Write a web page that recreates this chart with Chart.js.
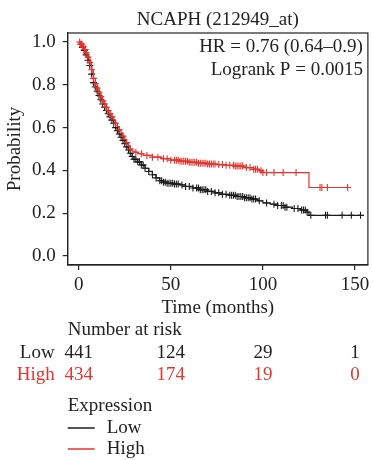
<!DOCTYPE html>
<html>
<head>
<meta charset="utf-8">
<script src="https://cdn.jsdelivr.net/npm/chart.js@4.4.1/dist/chart.umd.min.js"></script>
<style>
html, body { margin: 0; padding: 0; background: #fff; }
#wrap { position: relative; width: 373px; height: 460px; }
</style>
</head>
<body>
<div id="wrap"><canvas id="km"></canvas></div>
<script>
// Kaplan-Meier steps (time in months, survival probability)
const lowTimes = [0,1,2,3,4,5,6,7,8,9,10,11,12,13,14,15,16,17,18,19,20,21,22,23,24,25,26,27,28,29,30,32,34,36,38,40,42,44,46,48,52,55,58,62,66,70,74,78,82,86,90,94,97,100,104,108,112,116,120,124,125,154]
const lowSurv = [1.0,0.99,0.975,0.96,0.94,0.915,0.89,0.85,0.81,0.79,0.77,0.75,0.73,0.71,0.695,0.68,0.665,0.65,0.635,0.62,0.60,0.585,0.57,0.555,0.54,0.525,0.51,0.495,0.48,0.465,0.452,0.44,0.425,0.41,0.395,0.38,0.365,0.352,0.345,0.34,0.336,0.332,0.325,0.318,0.31,0.302,0.295,0.288,0.284,0.278,0.272,0.266,0.258,0.248,0.242,0.236,0.228,0.222,0.215,0.205,0.19,0.19]
const highTimes = [0,1,2,3,4,5,6,7,8,9,10,11,12,13,14,15,16,17,18,19,20,21,22,23,24,25,26,27,28,29,30,32,35,40,45,50,55,60,65,70,75,80,85,90,95,98,100,125,146]
const highSurv = [1.0,0.99,0.98,0.965,0.95,0.93,0.905,0.87,0.83,0.805,0.785,0.765,0.745,0.725,0.71,0.695,0.68,0.665,0.65,0.635,0.62,0.605,0.59,0.575,0.56,0.545,0.53,0.515,0.50,0.49,0.485,0.478,0.47,0.462,0.455,0.448,0.443,0.438,0.434,0.43,0.427,0.424,0.42,0.413,0.405,0.398,0.39,0.32,0.32]

// censoring times (the little + marks)
const lowCensor = [2,3,4,5,6,7,8,9,10,11,12,13,14,15,16,17,18,19,20,21,22,23,24,25,26,27,28,29,30,31,32,33,34,35,36,38,40,42,44,45,46,47,48,49,50,51,52,53,54,56,58,60,62,64,65,66,67,68,69,70,72,74,76,78,80,82,83,84,85,86,87,88,89,90,91,92,93,94,95,96,98,102,106,108,110,111,112,113,117,119,121,122,123,124,126,134,135,143,148,153]
const highCensor = [0.5,1,1.5,2,2.5,3,3.5,4,5,6,7,8,9,10,11,12,13,14,15,16,17,18,20,22,24,26,28,31,34,37,40,43,46,48,50,52,53,54,55,56,57,58,59,60,61,62,63,64,65,66,67,68,69,70,71,72,73,74,76,78,80,82,84,85,86,87,88,89,91,93,95,96,97,99,100,102,106,111,118,131,132,135,146]

const xTicks = [0, 50, 100, 150]
const yTicks = [0, 0.2, 0.4, 0.6, 0.8, 1.0]

// number at risk, at the x tick times
const riskTimes = [0, 50, 100, 150]
const lowRisk = [441, 124, 29, 1]
const highRisk = [434, 174, 19, 0]

const titleText = "NCAPH (212949_at)"
const statLines = ["HR = 0.76 (0.64\u20130.9)", "Logrank P = 0.0015"]

const LOW_COL = "#1c1c1c"
const HIGH_COL = "#e5352e"
const TXT = "#222"
const FONT = '"Liberation Serif", "Times New Roman", serif'
const FSIZE = 19

function steps(times, surv){
    return times.map(function(t, i){ return {x: t, y: surv[i]} })
}

// value of the step curve at time t (last step at or before t)
function survAt(times, surv, t){
    let v = surv[0]
    for (let i = 0; i < times.length; i++){
        if (times[i] <= t) v = surv[i]
    }
    return v
}

function marks(censor, times, surv){
    return censor.map(function(t){ return {x: t, y: survAt(times, surv, t)} })
}

const extras = {
    id: "extras",
    afterDraw(chart){
        const ctx = chart.ctx
        const a = chart.chartArea
        const xs = chart.scales.x
        ctx.save()
        // full frame round the plot
        ctx.strokeStyle = TXT
        ctx.lineWidth = 1.2
        ctx.strokeRect(a.left, a.top, a.right - a.left, a.bottom - a.top)

        ctx.font = FSIZE + "px " + FONT
        ctx.fillStyle = TXT
        ctx.textBaseline = "middle"
        ctx.textAlign = "center"
        ctx.fillText(titleText, (a.left + a.right) / 2, 20)
        ctx.textAlign = "right"
        ctx.fillText(statLines[0], a.right - 5, 47)
        ctx.fillText(statLines[1], a.right - 5, 70)

        // number at risk table
        ctx.textAlign = "left"
        ctx.fillText("Number at risk", a.left, 330)
        ctx.textAlign = "right"
        ctx.fillText("Low", a.left - 13, 353)
        ctx.fillStyle = HIGH_COL
        ctx.fillText("High", a.left - 13, 375)
        ctx.textAlign = "center"
        riskTimes.forEach(function(t, i){
            const px = xs.getPixelForValue(t)
            ctx.fillStyle = TXT
            ctx.fillText(String(lowRisk[i]), px, 353)
            ctx.fillStyle = HIGH_COL
            ctx.fillText(String(highRisk[i]), px, 375)
        })

        // legend
        ctx.fillStyle = TXT
        ctx.textAlign = "left"
        ctx.fillText("Expression", a.left, 406)
        const rows = [["Low", LOW_COL, 428], ["High", HIGH_COL, 449]]
        rows.forEach(function([name, col, y]){
            ctx.strokeStyle = col
            ctx.lineWidth = 1.5
            ctx.beginPath()
            ctx.moveTo(a.left, y)
            ctx.lineTo(a.left + 27, y)
            ctx.stroke()
            ctx.fillStyle = TXT
            ctx.fillText(name, a.left + 39, y)
        })
        ctx.restore()
    }
}

Chart.defaults.font.family = FONT
Chart.defaults.font.size = FSIZE
Chart.defaults.color = TXT

new Chart(document.getElementById("km"), {
    type: "scatter",
    data: {
        datasets: [
            {label: "High", data: steps(highTimes, highSurv), showLine: true, stepped: "before",
             borderColor: HIGH_COL, borderWidth: 1.2, pointRadius: 0, order: 1},
            {label: "High censored", data: marks(highCensor, highTimes, highSurv), showLine: false,
             pointStyle: "cross", pointRadius: 3.5, borderColor: HIGH_COL, borderWidth: 1.1, order: 0},
            {label: "Low", data: steps(lowTimes, lowSurv), showLine: true, stepped: "before",
             borderColor: LOW_COL, borderWidth: 1.2, pointRadius: 0, order: 3},
            {label: "Low censored", data: marks(lowCensor, lowTimes, lowSurv), showLine: false,
             pointStyle: "cross", pointRadius: 3.5, borderColor: LOW_COL, borderWidth: 1.1, order: 2}
        ]
    },
    options: {
        responsive: true,
        maintainAspectRatio: false,
        animation: false,
        layout: {padding: {left: 0, right: 1, top: 33, bottom: 141}},
        plugins: {
            legend: {display: false},
            tooltip: {enabled: false}
        },
        scales: {
            x: {
                type: "linear", min: -6, max: 157,
                afterBuildTicks: function(s){ s.ticks = xTicks.map(function(v){ return {value: v} }) },
                afterFit: function(s){ s.height = 54; s.paddingLeft = 0; s.paddingRight = 0 },
                ticks: {padding: 4, color: TXT},
                grid: {display: true, drawOnChartArea: false, drawTicks: true, tickLength: 5, color: TXT, lineWidth: 1.2},
                border: {display: true, color: TXT, width: 1.2},
                title: {display: true, text: "Time (months)", color: TXT, font: {size: FSIZE}, padding: {top: 0, bottom: 0}}
            },
            y: {
                type: "linear", min: -0.042, max: 1.042,
                afterBuildTicks: function(s){ s.ticks = yTicks.map(function(v){ return {value: v} }) },
                afterFit: function(s){ s.width = 67.7; s.paddingTop = 0; s.paddingBottom = 0 },
                ticks: {padding: 7, color: TXT, callback: function(v){ return Number(v).toFixed(1) }},
                grid: {display: true, drawOnChartArea: false, drawTicks: true, tickLength: 5, color: TXT, lineWidth: 1.2},
                border: {display: true, color: TXT, width: 1.2},
                title: {display: true, text: "Probability", color: TXT, font: {size: FSIZE}, padding: {top: 4, bottom: 0}}
            }
        }
    },
    plugins: [extras]
})
</script>
</body>
</html>
